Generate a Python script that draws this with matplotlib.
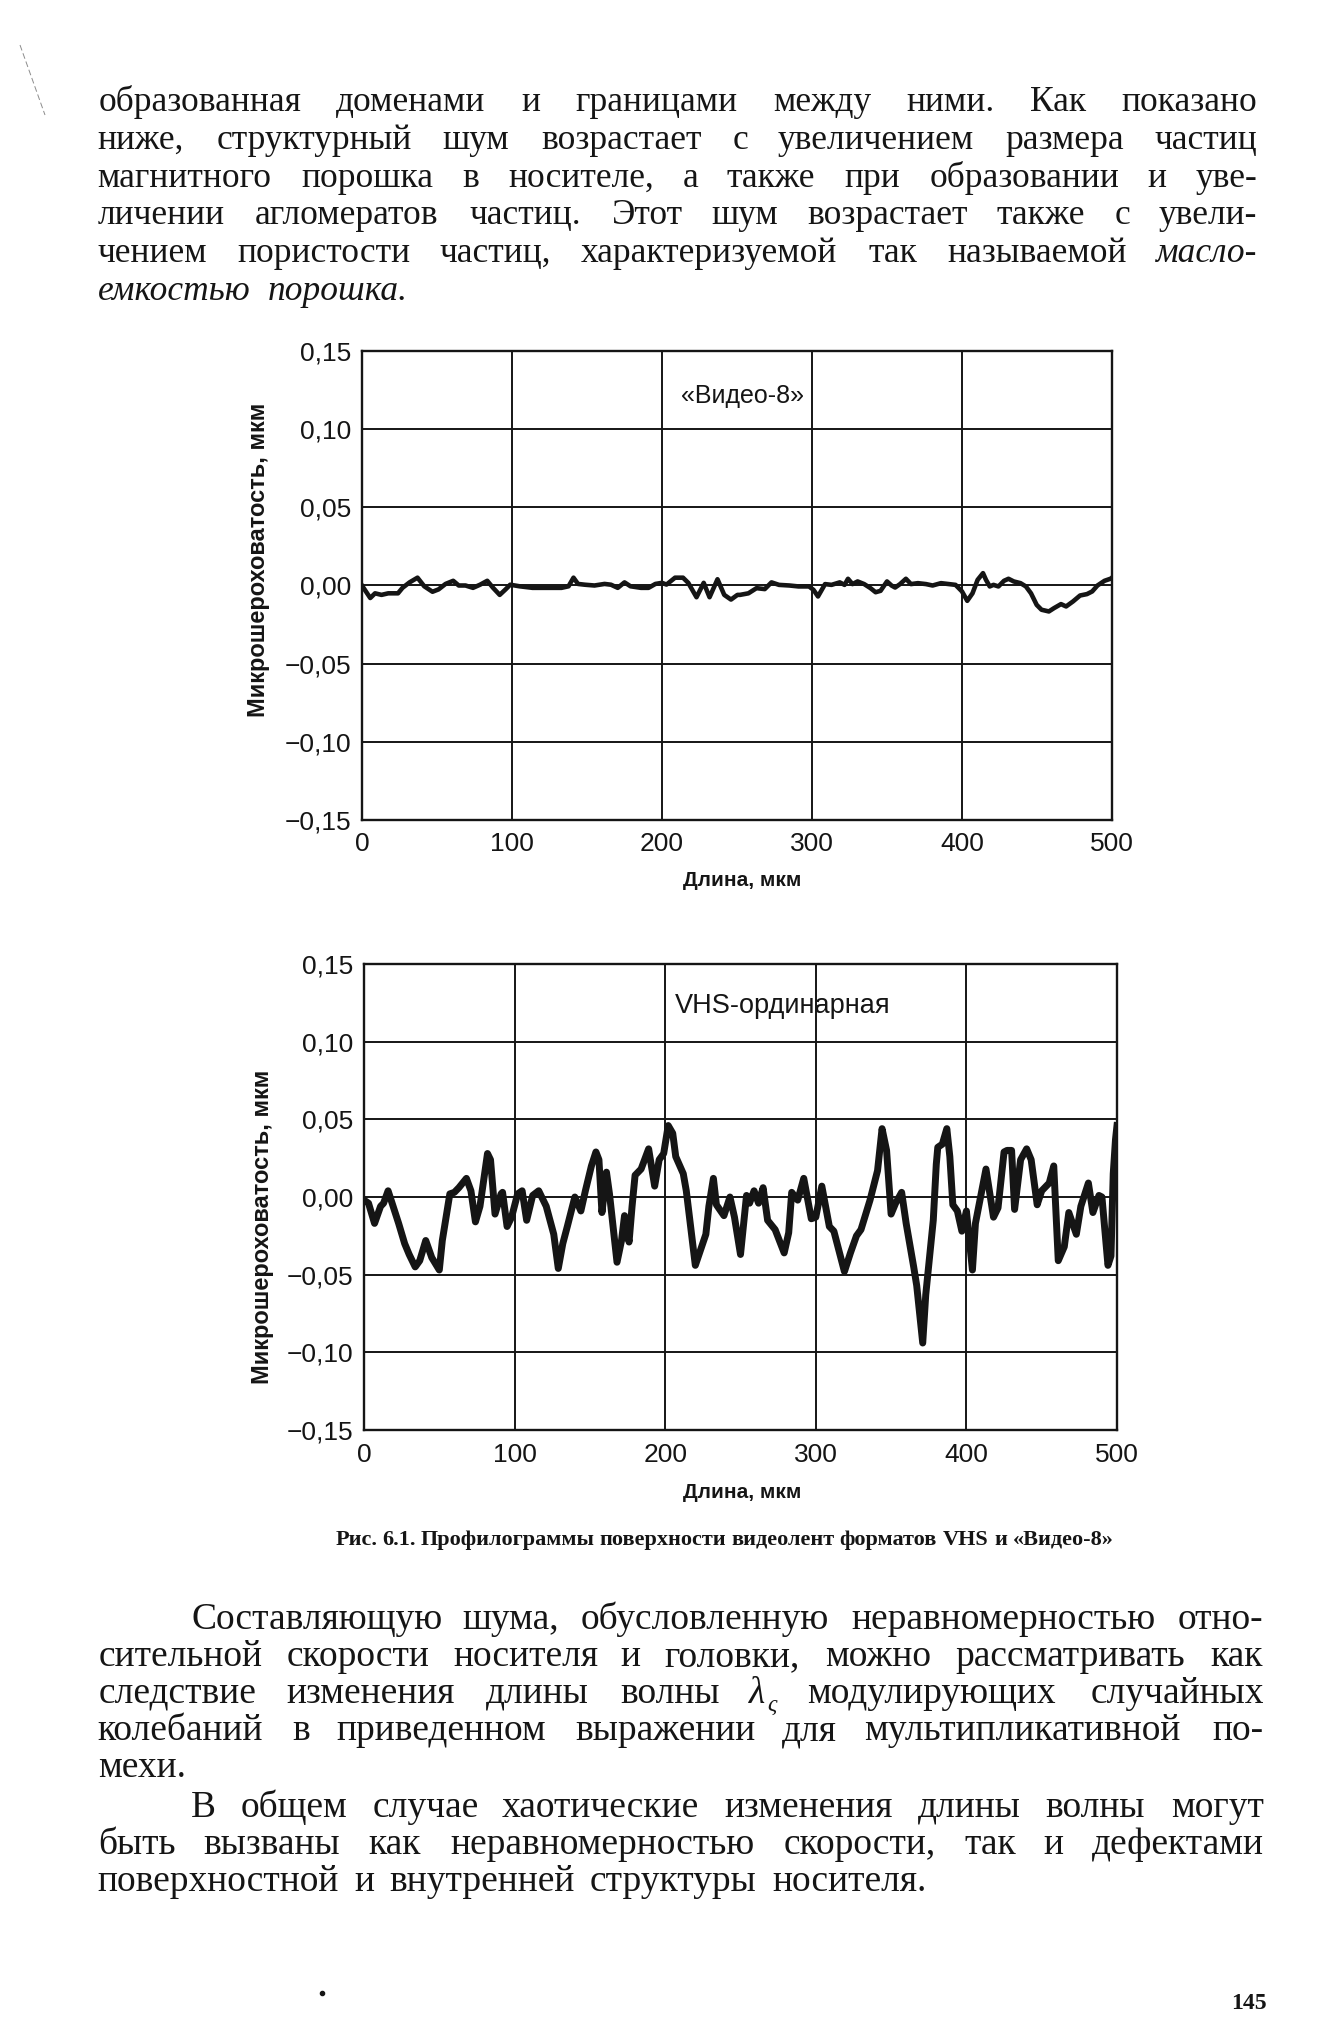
import matplotlib
matplotlib.use("Agg")
import matplotlib.pyplot as plt
from matplotlib.font_manager import FontProperties, findfont, get_font
from matplotlib.lines import Line2D

W, H, DPI = 1335, 2022, 100
INK = "#151515"

# axis ticks
length_ticks = [0, 100, 200, 300, 400, 500]
length_labels = ["0", "100", "200", "300", "400", "500"]
rough_ticks = [-0.15, -0.10, -0.05, 0.00, 0.05, 0.10, 0.15]
rough_labels = ["\u22120,15", "\u22120,10", "\u22120,05", "0,00", "0,05", "0,10", "0,15"]

# "Видео-8" profile
video8_x = [0, 1, 5.5, 8.7, 13, 17.5, 24, 27, 31.7, 37, 41.5, 47, 51, 55.7, 60.8, 64.5, 69, 74,
            78.7, 83.5, 87.4, 91.8, 95.7, 98.8, 105, 113.7, 122.4, 133, 137.7, 141, 144, 148.6,
            155, 161.7, 166, 170.5, 175, 179, 186, 191, 195.6, 200, 203, 208.7, 214, 217.5, 223,
            227.8, 231.7, 237, 241.5, 246, 250.3, 252, 257.6, 263, 268.5, 273, 278, 285, 291, 298,
            301, 304, 308.7, 313, 318.5, 321.7, 324, 327, 330.4, 334.8, 339, 342.4, 345.7, 350,
            353, 355.4, 358.7, 362.6, 366, 370.6, 376, 380.4, 386, 391.3, 395.7, 400, 403.5, 407,
            410.4, 414, 416, 418.5, 421, 424.3, 428, 431, 434.5, 439, 442.6, 446, 449.8, 453,
            457.9, 461.3, 466, 469.4, 474, 478.7, 483.3, 486.8, 490.3, 495, 499.5, 500]
video8_y = [0.0, -0.0015, -0.008, -0.005, -0.006, -0.005, -0.005, -0.0015, 0.002, 0.005, -0.0005,
            -0.004, -0.0025, 0.001, 0.003, 0.0, 0.0, -0.0015, 0.0005, 0.003, -0.0015, -0.006,
            -0.0025, 0.0005, -0.0005, -0.0015, -0.0015, -0.0015, -0.0005, 0.005, 0.001, 0.0005,
            0.0, 0.001, 0.0005, -0.0015, 0.002, -0.0005, -0.0015, -0.0015, 0.001, 0.0017, 0.0006,
            0.005, 0.005, 0.0017, -0.0075, 0.0017, -0.0075, 0.004, -0.006, -0.009, -0.006, -0.006,
            -0.005, -0.0017, -0.0023, 0.002, 0.0004, 0.0, -0.0006, -0.0006, -0.0028, -0.007,
            0.0009, 0.0004, 0.002, 0.0004, 0.0043, 0.0009, 0.0026, 0.0009, -0.0017, -0.0043,
            -0.0034, 0.0026, 0.0, -0.0013, 0.0009, 0.0043, 0.0009, 0.0015, 0.0009, 0.0, 0.0015,
            0.0009, 0.0004, -0.0038, -0.0098, -0.005, 0.0036, 0.0079, 0.0036, -0.0006, 0.0004,
            -0.0006, 0.003, 0.0043, 0.0026, 0.0015, -0.0006, -0.005, -0.0124, -0.0155, -0.0166,
            -0.0145, -0.0119, -0.0134, -0.0102, -0.0064, -0.0055, -0.0038, 0.0, 0.003, 0.0045,
            0.005]

# VHS profile
vhs_x = [0, 3, 7, 11, 13, 16, 23, 27, 30, 34,
         37, 41, 45, 50, 52, 57, 60, 63, 68, 71,
         74, 77, 82, 84, 87, 91, 92, 95, 98, 102,
         105, 108, 112, 116, 121, 126, 129, 132, 135, 140,
         144, 147, 151, 154, 156, 158, 161, 163, 168, 171,
         173, 176, 178, 180, 184, 189, 193, 196, 199, 202,
         205, 207, 212, 214, 220, 227, 229, 232, 234, 239,
         243, 246, 250, 254, 256, 259, 262, 265, 268, 273,
         279, 282, 284, 288, 292, 297, 300, 304, 309, 312,
         319, 323, 327, 330, 336, 341, 344, 347, 350, 353,
         357, 360, 365, 367, 371, 373, 378, 380, 381, 384,
         387, 389, 391, 394, 397, 400, 404, 406, 409, 413,
         418, 421, 425, 427, 430, 432, 436, 440, 443, 447,
         450, 455, 458, 461, 465, 468, 473, 476, 481, 484,
         488, 490, 491, 494, 496, 497.5, 499, 500]
vhs_y = [-0.002, -0.004, -0.017, -0.006, -0.004, 0.004, -0.017, -0.030, -0.037, -0.045,
         -0.041, -0.028, -0.039, -0.047, -0.028, 0.002, 0.003, 0.006, 0.012, 0.004,
         -0.016, -0.006, 0.028, 0.024, -0.011, 0.002, 0.003, -0.019, -0.013, 0.002,
         0.004, -0.015, 0.001, 0.004, -0.006, -0.024, -0.046, -0.030, -0.019, 0.000,
         -0.009, 0.004, 0.020, 0.029, 0.024, -0.010, 0.016, 0.002, -0.042, -0.028,
         -0.012, -0.029, -0.006, 0.014, 0.018, 0.031, 0.007, 0.024, 0.028, 0.046,
         0.041, 0.026, 0.015, 0.004, -0.044, -0.024, -0.006, 0.012, -0.005, -0.012,
         0.000, -0.013, -0.037, 0.001, -0.004, 0.004, -0.004, 0.006, -0.015, -0.021,
         -0.036, -0.023, 0.003, -0.002, 0.012, -0.014, -0.013, 0.007, -0.019, -0.022,
         -0.048, -0.036, -0.025, -0.021, -0.002, 0.017, 0.044, 0.030, -0.011, -0.004,
         0.003, -0.017, -0.045, -0.057, -0.094, -0.063, -0.015, 0.021, 0.032, 0.034,
         0.044, 0.026, -0.005, -0.009, -0.022, -0.009, -0.047, -0.017, -0.002, 0.018,
         -0.013, -0.007, 0.029, 0.030, 0.030, -0.008, 0.024, 0.031, 0.024, -0.005,
         0.004, 0.009, 0.020, -0.041, -0.032, -0.010, -0.024, -0.006, 0.009, -0.010,
         0.001, 0.000, -0.011, -0.044, -0.038, 0.015, 0.037, 0.046]

# page text: each line is a list of (text, style); r = roman, i = italic, s = subscript
text_top = [
    [("образованная доменами и границами между ними. Как показано", "r")],
    [("ниже, структурный шум возрастает с увеличением размера частиц", "r")],
    [("магнитного порошка в носителе, а также при образовании и уве-", "r")],
    [("личении агломератов частиц. Этот шум возрастает также с увели-", "r")],
    [("чением пористости частиц, характеризуемой так называемой ", "r"), ("масло-", "i")],
    [("емкостью порошка.", "i")],
]
text_par1 = [
    [("Составляющую шума, обусловленную неравномерностью отно-", "r")],
    [("сительной скорости носителя и головки, можно рассматривать как", "r")],
    [("следствие изменения длины волны ", "r"), ("λ", "i"), ("ς", "s"), (" модулирующих случайных", "r")],
    [("колебаний в приведенном выражении для мультипликативной по-", "r")],
    [("мехи.", "r")],
]
text_par2 = [
    [("В общем случае хаотические изменения длины волны могут", "r")],
    [("быть вызваны как неравномерностью скорости, так и дефектами", "r")],
    [("поверхностной и внутренней структуры носителя.", "r")],
]
caption = [("Рис. 6.1. Профилограммы поверхности видеолент форматов VHS и «Видео-8»", "r")]

plt.rcParams["font.family"] = ["Liberation Sans", "DejaVu Sans"]
fig = plt.figure(figsize=(W / DPI, H / DPI), dpi=DPI)
fig.patch.set_facecolor("white")


def serif(style, size, weight="normal"):
    return FontProperties(family=["Liberation Serif", "DejaVu Serif"],
                          style="italic" if style in ("i", "s") else "normal",
                          size=size, weight=weight)


def piece_width(txt, fp):
    font = get_font(findfont(fp))
    font.set_size(fp.get_size_in_points(), DPI)
    w = 0.0
    for ch in txt:
        w += font.load_char(ord(ch)).linearHoriAdvance / 65536
    g = font.load_char(ord(txt[0]))
    return w, g.horiBearingX / 64


def put_line(segs, x0, x1, base, size, weight="normal", justify=True, gap=None):
    # split segments into words made of styled pieces
    words, cur = [], []
    for txt, st in segs:
        parts = txt.split(" ")
        for j, p in enumerate(parts):
            if j > 0 and cur:
                words.append(cur)
                cur = []
            if p:
                cur.append((p, st))
    if cur:
        words.append(cur)
    meas = []
    for w in words:
        pcs = []
        for p, st in w:
            sz = size * 0.62 if st == "s" else size
            fp = serif(st, sz, weight)
            wd, lsb = piece_width(p, fp)
            pcs.append((p, st, fp, wd, lsb))
        meas.append(pcs)
    total = sum(pc[3] for pcs in meas for pc in pcs)
    if justify and len(meas) > 1:
        gap = (x1 - x0 - total) / (len(meas) - 1)
    x = x0
    for pcs in meas:
        for p, st, fp, wd, lsb in pcs:
            dy = 0.2 * size * DPI / 72 if st == "s" else 0
            fig.text((x + lsb) / W, 1 - (base + dy) / H, p, fontproperties=fp,
                     ha="left", va="baseline", color=INK)
            x += wd
        x += gap


def style_axes(ax):
    ax.set_xlim(0, 500)
    ax.set_ylim(-0.15, 0.15)
    ax.set_xticks(length_ticks, length_labels)
    ax.set_yticks(rough_ticks, rough_labels)
    ax.tick_params(axis="both", length=0, labelsize=19, colors=INK)
    ax.tick_params(axis="x", pad=9)
    ax.tick_params(axis="y", pad=8)
    ax.grid(True, color=INK, lw=1.4)
    for sp in ax.spines.values():
        sp.set_color(INK)
        sp.set_linewidth(1.7)


# top chart
ax1 = fig.add_axes([362 / W, 1 - 820 / H, 750 / W, 469 / H])
style_axes(ax1)
ax1.plot(video8_x, video8_y, color=INK, lw=3.3, solid_joinstyle="round")
fig.text(743 / W, 1 - 396 / H, "«Видео-8»", ha="center", va="center", fontsize=18, color=INK)
fig.text(258 / W, 1 - 560 / H, "Микрошероховатость, мкм", rotation=90, ha="center",
         va="center", fontsize=17, weight="bold", color=INK)
fig.text(742 / W, 1 - 881 / H, "Длина, мкм", ha="center", va="center", fontsize=15,
         weight="bold", color=INK)

# bottom chart
ax2 = fig.add_axes([364 / W, 1 - 1430 / H, 753 / W, 466 / H])
style_axes(ax2)
ax2.plot(vhs_x, vhs_y, color=INK, lw=5.0, solid_joinstyle="round")
fig.text(783 / W, 1 - 1006 / H, "VHS-ординарная", ha="center", va="center", fontsize=19.5, color=INK)
fig.text(262 / W, 1 - 1227 / H, "Микрошероховатость, мкм", rotation=90, ha="center",
         va="center", fontsize=17, weight="bold", color=INK)
fig.text(742 / W, 1 - 1492 / H, "Длина, мкм", ha="center", va="center", fontsize=15,
         weight="bold", color=INK)

# body text
for i, line in enumerate(text_top):
    last = i == len(text_top) - 1
    put_line(line, 97, 1257, 111 + 37.8 * i, 25.5, justify=not last, gap=15)

for i, line in enumerate(text_par1):
    last = i == len(text_par1) - 1
    x0 = 190 if i == 0 else 97
    put_line(line, x0, 1263, 1629 + 37 * i, 27, justify=not last, gap=15)

for i, line in enumerate(text_par2):
    last = i == len(text_par2) - 1
    x0 = 190 if i == 0 else 97
    put_line(line, x0, 1263, 1817 + 37 * i, 27, justify=not last, gap=15)

put_line(caption, 335, 1112, 1545, 16, weight="bold")
fig.text(1267 / W, 1 - 2009 / H, "145", ha="right", va="baseline", fontsize=17,
         weight="bold", color=INK, family="Liberation Serif")

# scan specks
fig.add_artist(Line2D([20 / W, 45 / W], [1 - 45 / H, 1 - 115 / H], lw=0.7, color="0.55",
                      ls=(0, (6, 3)), transform=fig.transFigure))
fig.add_artist(Line2D([322 / W], [1 - 1993 / H], marker="o", ms=3, color=INK, lw=0,
                      transform=fig.transFigure))

fig.savefig("out.png", dpi=DPI, facecolor="white")
